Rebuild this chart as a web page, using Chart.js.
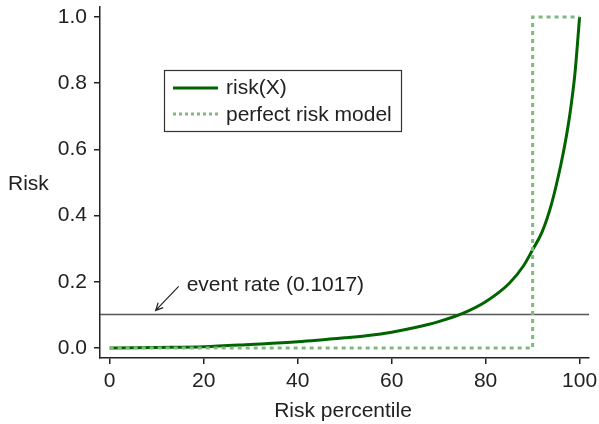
<!DOCTYPE html>
<html>
<head>
<meta charset="utf-8">
<script src="https://cdn.jsdelivr.net/npm/chart.js@4.4.0/dist/chart.umd.min.js"></script>
<style>
  html, body { margin: 0; padding: 0; background: #fff; }
  #chart { display: block; }
</style>
</head>
<body>
<canvas id="chart" width="599" height="424"></canvas>
<script>
// Datos
const percentiles = [0, 10, 20, 30, 40, 50, 55, 60, 65, 70, 75, 80, 85, 88, 90, 92, 94, 96, 97, 98, 99, 100];
const riskValues = [0.0, 0.002, 0.004, 0.011, 0.019, 0.031, 0.038, 0.048, 0.062, 0.080, 0.104, 0.140, 0.195, 0.247, 0.297, 0.350, 0.434, 0.553, 0.625, 0.713, 0.828, 1.0];
const perfectX = [0, 90, 90, 100];
const perfectY = [0, 0, 1, 1];
const eventRate = 0.1017;
const xTicks = [0, 20, 40, 60, 80, 100];
const yTicks = [0.0, 0.2, 0.4, 0.6, 0.8, 1.0];
const xRange = [-2.06, 102];
const yRange = [-0.03, 1.03];

const fontFam = '"Liberation Sans", Arial, Helvetica, sans-serif';
const darkGreen = '#006400';
const lightGreen = '#7fb97f';
const inkColor = '#222';

const toPoints = (xs, ys) => xs.map((x, i) => ({ x: x, y: ys[i] }));

// Leyenda, titulos de ejes y anotacion
const extras = {
  id: 'extras',
  afterDraw(chart) {
    const ctx = chart.ctx;
    const xs = chart.scales.x;
    const ys = chart.scales.y;
    ctx.save();
    ctx.fillStyle = inkColor;
    ctx.font = '21px ' + fontFam;

    // titulos
    ctx.textBaseline = 'middle';
    ctx.textAlign = 'left';
    ctx.fillText('Risk', 8, 184);
    ctx.textAlign = 'center';
    ctx.textBaseline = 'alphabetic';
    ctx.fillText('Risk percentile', 343, 417);

    // leyenda
    ctx.strokeStyle = '#333';
    ctx.lineWidth = 1.2;
    ctx.strokeRect(164.5, 70.5, 237, 61);
    ctx.lineWidth = 3;
    ctx.strokeStyle = darkGreen;
    ctx.beginPath();
    ctx.moveTo(173, 88);
    ctx.lineTo(218, 88);
    ctx.stroke();
    ctx.strokeStyle = lightGreen;
    ctx.setLineDash([3, 3]);
    ctx.beginPath();
    ctx.moveTo(173, 114);
    ctx.lineTo(218, 114);
    ctx.stroke();
    ctx.setLineDash([]);
    ctx.textAlign = 'left';
    ctx.textBaseline = 'middle';
    ctx.fillText('risk(X)', 226, 88);
    ctx.fillText('perfect risk model', 226, 115);

    // anotacion de la tasa de eventos
    const tipX = xs.getPixelForValue(10) - 1;
    const tipY = ys.getPixelForValue(eventRate) - 4;
    const tailX = tipX + 23;
    const tailY = tipY - 24;
    ctx.strokeStyle = inkColor;
    ctx.lineWidth = 1.2;
    ctx.beginPath();
    ctx.moveTo(tailX, tailY);
    ctx.lineTo(tipX, tipY);
    const ang = Math.atan2(tipY - tailY, tipX - tailX);
    const head = 8;
    ctx.moveTo(tipX - head * Math.cos(ang - 0.45), tipY - head * Math.sin(ang - 0.45));
    ctx.lineTo(tipX, tipY);
    ctx.lineTo(tipX - head * Math.cos(ang + 0.45), tipY - head * Math.sin(ang + 0.45));
    ctx.stroke();
    ctx.textBaseline = 'alphabetic';
    ctx.fillText('event rate (' + eventRate.toFixed(4) + ')', tailX + 8, tailY + 5);
    ctx.restore();
  }
};

new Chart(document.getElementById('chart'), {
  type: 'line',
  data: {
    datasets: [
      {
        label: 'perfect risk model',
        data: toPoints(perfectX, perfectY),
        borderColor: lightGreen,
        borderWidth: 3,
        borderDash: [4, 4],
        pointRadius: 0,
        tension: 0,
        order: 0
      },
      {
        label: 'risk(X)',
        data: toPoints(percentiles, riskValues),
        borderColor: darkGreen,
        borderWidth: 3,
        pointRadius: 0,
        cubicInterpolationMode: 'monotone',
        order: 1
      },
      {
        label: 'event rate',
        data: toPoints(xRange, [eventRate, eventRate]),
        borderColor: '#555',
        borderWidth: 1.5,
        pointRadius: 0,
        order: 2
      }
    ]
  },
  options: {
    responsive: false,
    animation: false,
    layout: { padding: { left: 0, top: 7, right: 10, bottom: 0 } },
    plugins: {
      legend: { display: false },
      tooltip: { enabled: false }
    },
    scales: {
      x: {
        type: 'linear',
        min: xRange[0],
        max: xRange[1],
        border: { color: inkColor, width: 1.5 },
        grid: { drawOnChartArea: false, drawTicks: true, tickLength: 6, color: inkColor, lineWidth: 1.5 },
        ticks: { color: inkColor, font: { family: fontFam, size: 21 }, padding: 5, maxRotation: 0 },
        afterBuildTicks: s => { s.ticks = xTicks.map(v => ({ value: v })); },
        afterFit: s => { s.height = 66; s.paddingLeft = 0; s.paddingRight = 0; }
      },
      y: {
        type: 'linear',
        min: yRange[0],
        max: yRange[1],
        border: { color: inkColor, width: 1.5 },
        grid: { drawOnChartArea: false, drawTicks: true, tickLength: 6, color: inkColor, lineWidth: 1.5 },
        ticks: { color: inkColor, font: { family: fontFam, size: 21 }, padding: 7, callback: v => v.toFixed(1) },
        afterBuildTicks: s => { s.ticks = yTicks.map(v => ({ value: v })); },
        afterFit: s => { s.width = 100; s.paddingTop = 0; s.paddingBottom = 0; }
      }
    }
  },
  plugins: [extras]
});
</script>
</body>
</html>
